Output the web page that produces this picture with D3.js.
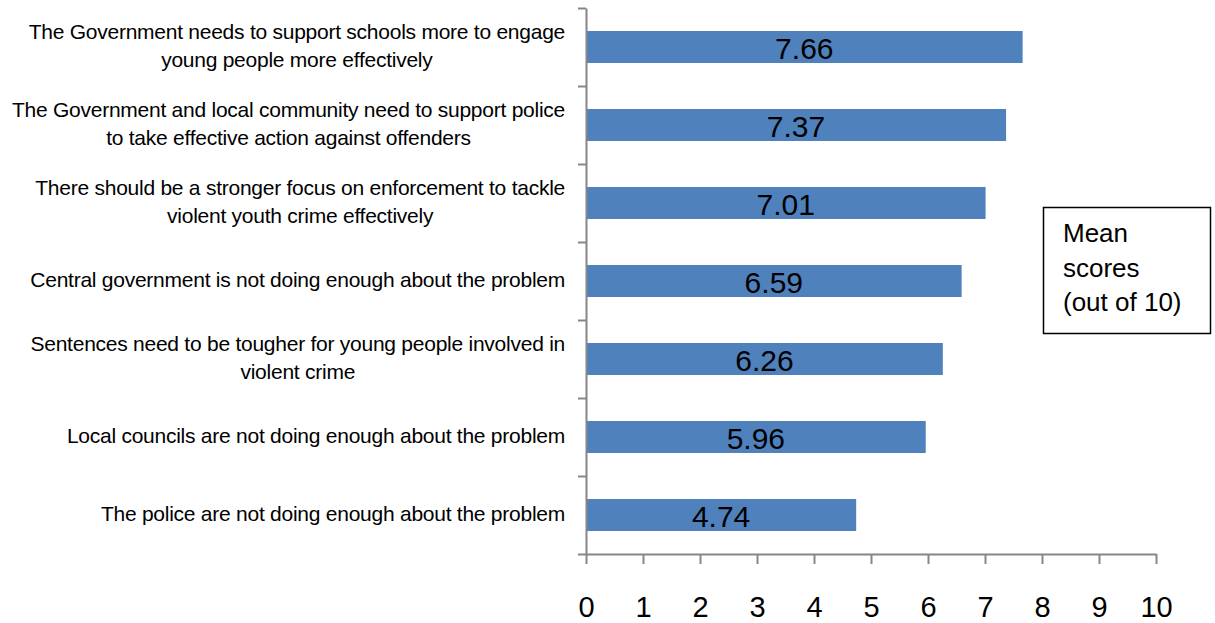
<!DOCTYPE html>
<html>
<head>
<meta charset="utf-8">
<script src="https://cdn.jsdelivr.net/npm/d3@7"></script>
<style>
  html, body { margin: 0; padding: 0; background: #fff; }
  svg { display: block; font-family: "Liberation Sans", Arial, sans-serif; }
</style>
</head>
<body>
<svg id="chart" width="1215" height="623"></svg>
<script>
const categories = [
  "The Government needs to support  schools more to engage\nyoung people more effectively",
  "The Government and local community need to support police\nto take effective action against offenders",
  "There should be a stronger focus on enforcement to tackle\nviolent youth crime effectively",
  "Central government is not doing enough about the problem",
  "Sentences need to be tougher for young people involved in\nviolent crime",
  "Local councils are not doing enough about the problem",
  "The police are not doing enough about the problem"
];
const values = [7.66, 7.37, 7.01, 6.59, 6.26, 5.96, 4.74];
const xTicks = [0, 1, 2, 3, 4, 5, 6, 7, 8, 9, 10];
const legendLines = ["Mean", "scores", "(out of 10)"];

const svg = d3.select("#chart");
const plotLeft = 586, plotRight = 1156, plotTop = 8, plotBottom = 554;
const axisColor = "#868686";

const x = d3.scaleLinear().domain([0, 10]).range([plotLeft, plotRight]);
const y = d3.scaleBand().domain(categories).range([plotTop, plotBottom])
  .paddingInner(0.59).paddingOuter(0.295);
const yBound = d3.scaleLinear().domain([0, categories.length]).range([plotBottom, plotTop]);

// bars
svg.append("g").selectAll("rect").data(values).join("rect")
  .attr("x", x(0))
  .attr("y", (d, i) => y(categories[i]))
  .attr("width", d => x(d) - x(0))
  .attr("height", y.bandwidth())
  .attr("fill", "#4F81BD");

// bar labels
svg.append("g").selectAll("text").data(values).join("text")
  .attr("x", d => (x(0) + x(d)) / 2)
  .attr("y", (d, i) => y(categories[i]) + y.bandwidth() / 2 + 12)
  .attr("text-anchor", "middle")
  .attr("font-size", 30)
  .attr("fill", "#000")
  .text(d => d.toFixed(2));

// y axis (ticks at category boundaries)
const yAxis = svg.append("g").attr("transform", `translate(${plotLeft},0)`)
  .call(d3.axisLeft(yBound).tickValues(d3.range(0, categories.length + 1))
    .tickFormat("").tickSize(8).tickSizeOuter(0));
yAxis.select(".domain").attr("stroke", axisColor).attr("stroke-width", 2);
yAxis.selectAll(".tick line").attr("stroke", axisColor).attr("stroke-width", 2);

// x axis
const xAxis = svg.append("g").attr("transform", `translate(0,${plotBottom})`)
  .call(d3.axisBottom(x).tickValues(xTicks).tickFormat(d3.format("d"))
    .tickSize(10).tickSizeOuter(0).tickPadding(32));
xAxis.select(".domain").attr("stroke", axisColor).attr("stroke-width", 2);
xAxis.selectAll(".tick line").attr("stroke", axisColor).attr("stroke-width", 2);
xAxis.selectAll(".tick text").attr("font-size", 29).attr("fill", "#000")
  .attr("font-family", "Liberation Sans, Arial, sans-serif");

// category labels
const labelRight = 565;
const lineH = 28;
const lg = svg.append("g");
categories.forEach((c, i) => {
  const lines = c.split("\n");
  const cy = y(c) + y.bandwidth() / 2;
  const t = lg.append("text")
    .attr("font-size", 21)
    .attr("letter-spacing", "-0.25px")
    .attr("fill", "#000")
    .attr("text-anchor", "middle");
  const n = lines.length;
  const first = cy - (n - 1) * lineH / 2 + 6;
  const spans = lines.map((l, k) => t.append("tspan").attr("y", first + k * lineH).text(l));
  let maxW = 0;
  spans.forEach(s => { maxW = Math.max(maxW, s.node().getComputedTextLength()); });
  spans.forEach(s => s.attr("x", labelRight - maxW / 2));
});

// legend box
svg.append("rect")
  .attr("x", 1043.5).attr("y", 207.5).attr("width", 167).attr("height", 126)
  .attr("fill", "#fff").attr("stroke", "#000").attr("stroke-width", 1.5);
svg.append("g").selectAll("text").data(legendLines).join("text")
  .attr("x", 1063)
  .attr("y", (d, i) => 242 + i * 34.5)
  .attr("font-size", 26)
  .attr("fill", "#000")
  .text(d => d);
</script>
</body>
</html>
